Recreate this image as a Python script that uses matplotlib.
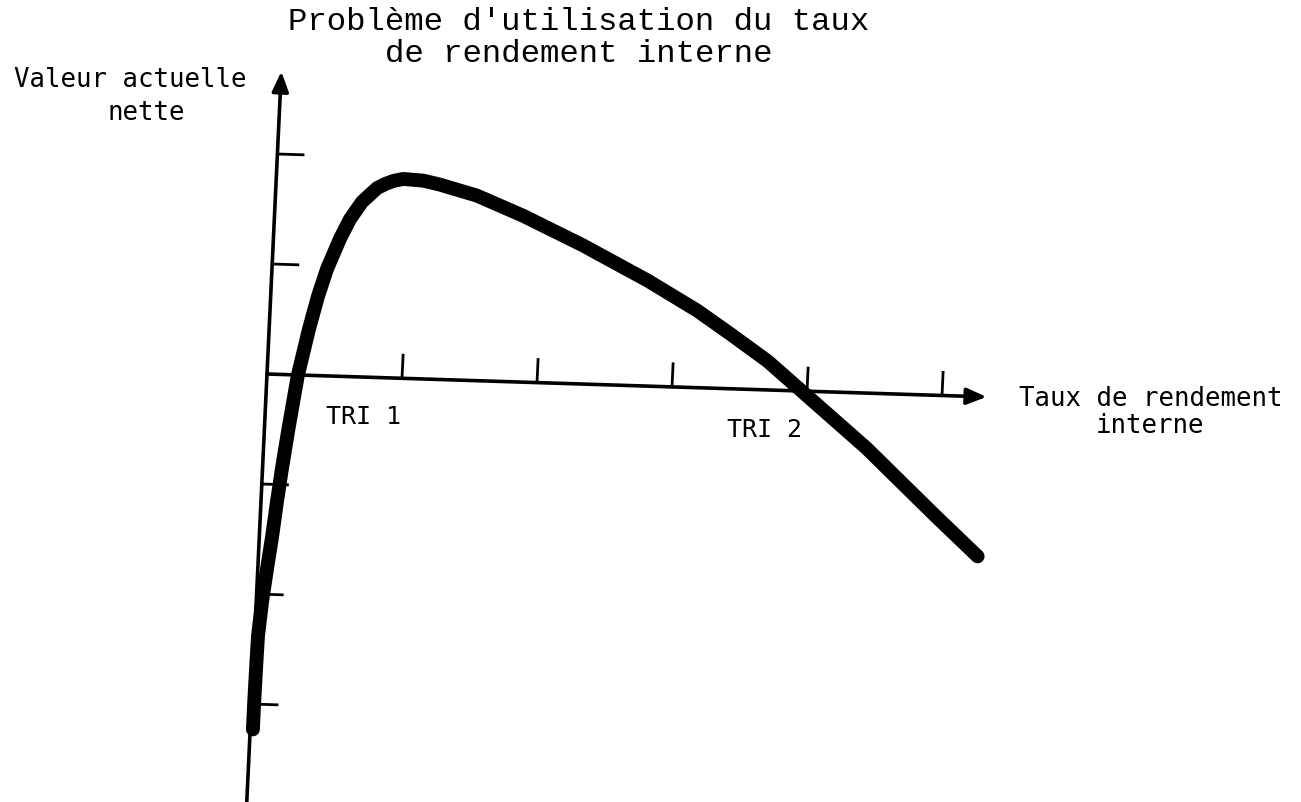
import matplotlib
matplotlib.use('Agg')
import matplotlib.pyplot as plt
from matplotlib.transforms import Affine2D

# Courbe VAN = f(taux), taux et VAN exprimés en graduations
taux = [0.02, 0.02, 0.022, 0.025, 0.043, 0.068, 0.095, 0.118, 0.143, 0.178,
        0.229, 0.295, 0.350, 0.407, 0.493, 0.560, 0.643, 0.75, 0.81, 0.87,
        0.94, 1.09, 1.21, 1.49, 1.84, 2.29, 2.78, 3.16, 3.41, 3.70,
        3.96, 4.20, 4.46, 4.72, 4.98, 5.32]
van = [-3.23, -2.98, -2.68, -2.38, -2.07, -1.77, -1.47, -1.16, -0.86, -0.49,
       0.0, 0.42, 0.72, 0.97, 1.25, 1.43, 1.59, 1.72, 1.76, 1.79,
       1.81, 1.80, 1.77, 1.68, 1.51, 1.26, 0.96, 0.70, 0.50, 0.26,
       0.0, -0.24, -0.50, -0.79, -1.08, -1.45]

x_ticks = [1, 2, 3, 4, 5]
y_ticks = [2, 1, -1, -2, -3]

tri_labels = ['TRI 1', 'TRI 2']
tri_label_x = [0.73, 3.70]

title_lines = ["Problème d'utilisation du taux", "de rendement interne"]
y_label = ['Valeur actuelle', 'nette']
x_label = ['Taux de rendement', 'interne']

W, H = 1301, 803
fig = plt.figure(figsize=(W / 100, H / 100), dpi=100)
ax = fig.add_axes([0, 0, 1, 1])
ax.set_xlim(0, W)
ax.set_ylim(0, H)
ax.axis('off')

# one graduation = 135 px along x, 110 px along y; the sheet is slightly skewed
tr = Affine2D().from_values(135, -4.3, 5.2, 110, 267, 428) + ax.transData

arrow = dict(arrowstyle='-|>,head_length=0.6,head_width=0.25',
             mutation_scale=20, lw=2.6, color='black', shrinkA=0, shrinkB=0)
ax.annotate('', xy=(5.33, 0), xytext=(0, 0), xycoords=tr, textcoords=tr,
            arrowprops=arrow)
ax.annotate('', xy=(0, 2.75), xytext=(0, -3.95), xycoords=tr, textcoords=tr,
            arrowprops=arrow)

for t in x_ticks:
    ax.plot([t, t], [0, 0.21], transform=tr, color='black', lw=2)
for t in y_ticks:
    ax.plot([0, 0.19], [t, t], transform=tr, color='black', lw=2)

ax.plot(taux, van, transform=tr, color='black', lw=10,
        solid_capstyle='round', solid_joinstyle='round', zorder=3)

for lab, lx in zip(tri_labels, tri_label_x):
    ax.text(lx, -0.42, lab, transform=tr, ha='center', va='baseline',
            family='DejaVu Sans Mono', fontsize=18)


def px(x, y):
    return x / W, 1 - y / H


mono = dict(family='DejaVu Sans Mono', fontsize=18.5, ha='center',
            va='baseline')
serif = dict(family='Liberation Mono', fontsize=23.3, ha='center',
             va='baseline')
fig.text(*px(579, 30), title_lines[0], **serif)
fig.text(*px(579, 62), title_lines[1], **serif)
fig.text(*px(130, 87), y_label[0], **mono)
fig.text(*px(146, 120), y_label[1], **mono)
fig.text(*px(1151, 406), x_label[0], **mono)
fig.text(*px(1150, 433), x_label[1], **mono)

fig.savefig('out.png', dpi=100, facecolor='white')
